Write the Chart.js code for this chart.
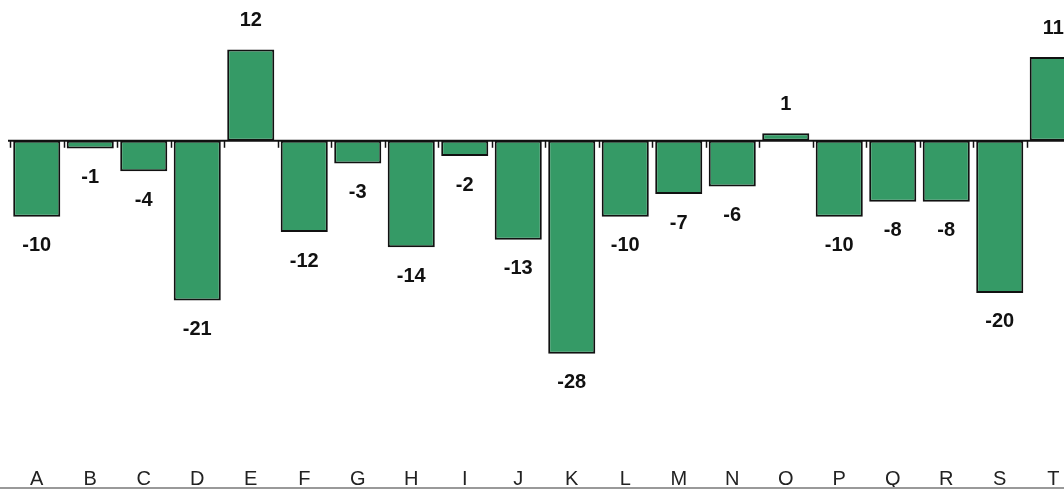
<!DOCTYPE html>
<html>
<head>
<meta charset="utf-8">
<script src="https://cdn.jsdelivr.net/npm/chart.js@4.4.1/dist/chart.umd.min.js"></script>
<style>
  html, body { margin: 0; padding: 0; background: #fff; overflow: hidden; }
  #wrap { width: 1090px; height: 490px; position: relative; }
</style>
</head>
<body>
<div id="wrap"><canvas id="barChart"></canvas></div>
<script>
// Categories and values
const categories = ['A', 'B', 'C', 'D', 'E', 'F', 'G', 'H', 'I', 'J',
                    'K', 'L', 'M', 'N', 'O', 'P', 'Q', 'R', 'S', 'T'];
const values = [-10, -1, -4, -21, 12, -12, -3, -14, -2, -13,
                -28, -10, -7, -6, 1, -10, -8, -8, -20, 11];

// Zero line with little ticks between categories, labels under the bars, base line
const decorations = {
    id: 'decorations',
    afterDatasetsDraw(chart) {
        const ctx = chart.ctx;
        const x = chart.scales.x;
        const y = chart.scales.y;
        const area = chart.chartArea;
        const zero = y.getPixelForValue(0);
        const step = x.getPixelForValue(1) - x.getPixelForValue(0);

        ctx.save();
        ctx.strokeStyle = '#111';
        ctx.lineWidth = 2;
        ctx.beginPath();
        ctx.moveTo(area.left - 2, zero);
        ctx.lineTo(chart.width, zero);
        ctx.stroke();

        ctx.lineWidth = 1.5;
        for (let i = 0; i <= categories.length; i++) {
            const bx = Math.round(x.getPixelForValue(0) - step / 2 + i * step) + 0.5;
            ctx.beginPath();
            ctx.moveTo(bx, zero);
            ctx.lineTo(bx, zero + 7);
            ctx.stroke();
        }

        // value labels
        ctx.fillStyle = '#111';
        ctx.font = 'bold 20px "Liberation Sans", Arial, sans-serif';
        ctx.textAlign = 'center';
        ctx.textBaseline = 'middle';
        values.forEach((v, i) => {
            const px = x.getPixelForValue(i);
            const py = y.getPixelForValue(v) + (v < 0 ? 29 : -29);
            ctx.fillText(String(v), px, py);
        });

        // category labels
        ctx.font = '20px "Liberation Sans", Arial, sans-serif';
        ctx.fillStyle = '#222';
        categories.forEach((c, i) => {
            ctx.fillText(c, x.getPixelForValue(i), 479);
        });

        // base line
        ctx.strokeStyle = '#999';
        ctx.lineWidth = 2;
        ctx.beginPath();
        ctx.moveTo(0, 488);
        ctx.lineTo(chart.width, 488);
        ctx.stroke();
        ctx.restore();
    }
};

new Chart(document.getElementById('barChart'), {
    type: 'bar',
    data: {
        labels: categories,
        datasets: [{
            data: values,
            backgroundColor: '#359a66',
            borderColor: '#111',
            borderWidth: 2,
            borderSkipped: false,
            categoryPercentage: 1,
            barPercentage: 0.88
        }]
    },
    options: {
        responsive: true,
        maintainAspectRatio: false,
        animation: false,
        layout: { padding: { left: 10, right: 10, top: 0, bottom: 3 } },
        plugins: {
            legend: { display: false },
            tooltip: { enabled: false }
        },
        scales: {
            x: { display: false },
            y: { display: false, min: -45.5, max: 18.5 }
        }
    },
    plugins: [decorations]
});
</script>
</body>
</html>
